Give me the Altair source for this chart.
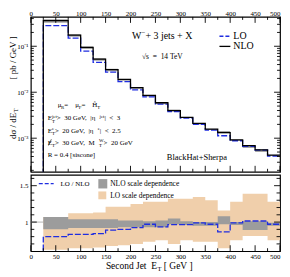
import altair as alt
import pandas as pd

FONT = "Liberation Serif"
BLUE = "#1f2de0"
GRAY = "#9c9c9c"
ORANGE = "#f0cfab"

# ---------------- data ----------------
edges = [25, 75, 100, 125, 150, 175, 200, 225, 250, 275, 300, 325, 350, 375, 400, 425, 450, 475, 500]
nlo = [0.363, 0.175, 0.095, 0.0525, 0.031, 0.019, 0.0126, 0.00857, 0.0059, 0.0040,
       0.00285, 0.0021, 0.00158, 0.00132, 0.00092, 0.00069, 0.00056, 0.00043]
lo = [0.280, 0.150, 0.078, 0.0447, 0.0275, 0.017, 0.0113, 0.0079, 0.0055, 0.0038,
      0.00275, 0.0020, 0.0015, 0.00113, 0.00088, 0.000665, 0.00055, 0.00041]
ratio = [0.80, 0.83, 0.83, 0.84, 0.89, 0.90, 0.925, 0.97, 0.935, 0.965,
         0.965, 0.99, 0.97, 0.865, 0.99, 1.015, 1.015, 0.97]
nlo_band_lo = [0.90, 0.92, 0.92, 0.92, 0.92, 0.93, 0.93, 0.93, 0.93, 0.97,
               0.96, 0.95, 0.95, 0.97, 0.96, 0.89, 0.89, 0.95]
nlo_band_hi = [1.07, 1.04, 1.04, 1.04, 1.04, 1.02, 1.02, 1.01, 1.02, 1.05,
               1.01, 1.00, 1.00, 1.08, 1.00, 1.01, 1.01, 0.99]
lo_band_lo = [0.62, 0.64, 0.64, 0.65, 0.67, 0.68, 0.70, 0.73, 0.75, 0.70,
              0.75, 0.73, 0.73, 0.64, 0.75, 0.81, 0.81, 0.75]
lo_band_hi = [1.07, 1.12, 1.12, 1.13, 1.21, 1.21, 1.25, 1.28, 1.28, 1.32,
              1.32, 1.345, 1.30, 1.16, 1.28, 1.39, 1.39, 1.28]

x_major = [0, 50, 100, 150, 200, 250, 300, 350, 400, 450, 500]
x_minor = [25, 75, 125, 175, 225, 275, 325, 375, 425, 475]
top_y_major = [0.001, 0.01, 0.1]
top_y_minor = [0.0002, 0.0003, 0.0004, 0.0005, 0.0006, 0.0007, 0.0008, 0.0009,
               0.002, 0.003, 0.004, 0.005, 0.006, 0.007, 0.008, 0.009,
               0.02, 0.03, 0.04, 0.05, 0.06, 0.07, 0.08, 0.09, 0.2, 0.3, 0.4]
bot_y_major = [1.0, 1.5]
bot_y_minor = [0.7, 0.8, 0.9, 1.1, 1.2, 1.3, 1.4, 1.6]

W = 251
HT = 156
HB = 77

xsc = alt.Scale(domain=[0, 500], nice=False, zero=False)
ysc_top = alt.Scale(type="log", domain=[1.86e-4, 0.435], nice=False)
ysc_bot = alt.Scale(domain=[0.6, 1.65], nice=False, zero=False)

axis_common = dict(ticks=False, tickSize=0, domain=False, grid=False, labelFont=FONT,
                   labelFontSize=7, labelColor="black", title=None, labelOverlap=False)
last_right = {"condition": {"test": "datum.value == 500", "value": "right"}, "value": "center"}
AX_TOP_X = alt.Axis(orient="top", values=x_major, labelFlush=False, labelPadding=0,
                    labelAlign=last_right, **axis_common)
AX_TOP_Y = alt.Axis(values=top_y_major, labelPadding=3,
                    labelExpr="datum.value < 0.005 ? '10⁻³' : (datum.value < 0.05 ? '10⁻²' : '10⁻¹')",
                    **axis_common)
AX_BOT_X = alt.Axis(orient="bottom", values=x_major, labelFlush=False, labelPadding=1,
                    labelAlign=last_right, **axis_common)
AX_BOT_Y = alt.Axis(values=bot_y_major, labelPadding=3,
                    labelExpr="datum.value == 1 ? '1' : '1.5'", **axis_common)

one = pd.DataFrame({"k": [0]})

# ---------------- helpers ----------------
TW = {' ': .25, '!': .333, '(': .333, ')': .333, '+': .564, ',': .25, '-': .333, '.': .25,
      '/': .278, '<': .564, '=': .564, '>': .564, '[': .333, ']': .333, '|': .2,
      'A': .722, 'B': .667, 'C': .667, 'D': .722, 'E': .611, 'F': .556, 'G': .722, 'H': .722,
      'I': .333, 'J': .389, 'K': .722, 'L': .611, 'M': .889, 'N': .722, 'O': .722, 'P': .556,
      'R': .667, 'S': .556, 'T': .611, 'V': .722, 'W': .944, 'X': .722,
      'a': .444, 'c': .444, 'e': .444, 'f': .333, 'i': .278, 'j': .278, 'l': .278, 'm': .778,
      'r': .333, 's': .389, 't': .278, 'w': .722, 'z': .444,
      'μ': .5, 'η': .5, 'σ': .55, '√': .55, 'Ĥ': .722, '−': .564}


def tw(s, fs):
    return sum(TW.get(c, 0.5) for c in s) * fs


def txt(s, x, y, fs, align="left", angle=0, baseline="alphabetic", color="black"):
    return alt.Chart(one).mark_text(
        text=s.replace(" ", "\u00a0"), align=align, baseline=baseline, angle=angle, fontSize=fs,
        font=FONT, color=color
    ).encode(x=alt.value(x), y=alt.value(y))


def rich(x0, y0, segs, fs):
    layers = []
    x = x0
    s = fs * 0.7
    for content, mode in segs:
        if mode == "n":
            layers.append(txt(content, x, y0, fs))
            x += tw(content, fs)
        elif mode == "sub":
            layers.append(txt(content, x, y0 + fs * 0.3, s))
            x += tw(content, s)
        elif mode == "sup":
            layers.append(txt(content, x, y0 - fs * 0.42, s))
            x += tw(content, s)
        elif mode == "ss":
            sb, sp = content
            layers.append(txt(sb, x, y0 + fs * 0.3, s))
            layers.append(txt(sp, x, y0 - fs * 0.42, s))
            x += max(tw(sb, s), tw(sp, s))
        elif mode == "slash":
            # slash through the previous letter (missing transverse energy)
            w = tw("E", fs)
            layers.append(alt.Chart(one).mark_rule(color="black", strokeWidth=0.6).encode(
                x=alt.value(x - w + 0.8), x2=alt.value(x - 0.6),
                y=alt.value(y0 + 0.8), y2=alt.value(y0 - fs * 0.78)))
    return layers


def step_frame(vals, lead):
    xs = [edges[0]] + list(edges)
    ys = [lead] + list(vals) + [vals[-1]]
    return pd.DataFrame({"x": xs, "y": ys, "i": list(range(len(xs)))})


def band_frame(lo_v, hi_v):
    return pd.DataFrame({"x": list(edges), "lo": list(lo_v) + [lo_v[-1]],
                         "hi": list(hi_v) + [hi_v[-1]]})


def xticks(vals, y1, y2, ax):
    return alt.Chart(pd.DataFrame({"v": vals})).mark_rule(color="black", strokeWidth=0.9).encode(
        x=alt.X("v:Q", axis=ax), y=alt.value(y1), y2=alt.value(y2))


def yticks(vals, x1, x2, ax):
    return alt.Chart(pd.DataFrame({"v": vals})).mark_rule(color="black", strokeWidth=0.9).encode(
        y=alt.Y("v:Q", axis=ax), x=alt.value(x1), x2=alt.value(x2))


# ---------------- top panel ----------------
band_top = alt.Chart(band_frame([n * g for n, g in zip(nlo, nlo_band_lo)],
                                [n * g for n, g in zip(nlo, nlo_band_hi)])).mark_area(
    interpolate="step-after", color="#a5a5a5", clip=True
).encode(
    x=alt.X("x:Q", scale=xsc, axis=AX_TOP_X),
    y=alt.Y("lo:Q", scale=ysc_top, axis=AX_TOP_Y),
    y2="hi:Q",
)

lo_line = alt.Chart(step_frame(lo, 1e-5)).mark_line(
    interpolate="step-after", color=BLUE, strokeWidth=1.3, strokeDash=[6, 2], clip=True
).encode(x=alt.X("x:Q", axis=AX_TOP_X), y=alt.Y("y:Q", axis=AX_TOP_Y), order="i:Q")

nlo_line = alt.Chart(step_frame(nlo, 1e-5)).mark_line(
    interpolate="step-after", color="black", strokeWidth=1.3, clip=True
).encode(x=alt.X("x:Q", axis=AX_TOP_X), y=alt.Y("y:Q", axis=AX_TOP_Y), order="i:Q")

top_ticks = [
    xticks(x_major, 0, 6, AX_TOP_X), xticks(x_minor, 0, 3, AX_TOP_X),
    xticks(x_major, HT, HT - 6, AX_TOP_X), xticks(x_minor, HT, HT - 3, AX_TOP_X),
    yticks(top_y_major, 0, 6, AX_TOP_Y), yticks(top_y_minor, 0, 3, AX_TOP_Y),
    yticks(top_y_major, W, W - 6, AX_TOP_Y), yticks(top_y_minor, W, W - 3, AX_TOP_Y),
]

top_text = []
top_text += rich(102, 22.4, [("W", "n"), ("−", "sup"), (" + 3 jets + X", "n")], 10)
top_text.append(txt("LO", 204, 22.4, 10))
top_text.append(txt("NLO", 204, 32.7, 10))
top_text.append(txt("√s  =  14 TeV", 112, 41.9, 7.5))
top_text += rich(27, 90.7, [("μ", "n"), ("R", "sub"), ("  =  ", "n"), ("μ", "n"), ("F", "sub"),
                            ("  =  ", "n"), ("Ĥ", "n"), ("T", "sub")], 7)
top_text += rich(17, 104.3, [("E", "n"), (("T", "jet"), "ss"), ("  >  30 GeV,  |η", "n"),
                             ("jet", "sup"), ("|  <  3", "n")], 7)
top_text += rich(17, 117, [("E", "n"), (("T", "e"), "ss"), ("  >  20 GeV,  |η", "n"),
                           ("e", "sup"), ("|  <  2.5", "n")], 7)
top_text += rich(17, 128.7, [("E", "n"), ("", "slash"), ("T", "sub"), ("  >  30 GeV,  M", "n"),
                             (("T", "W"), "ss"), ("  >  20 GeV", "n")], 7)
top_text.append(txt("R = 0.4 [siscone]", 17, 141.4, 7))
top_text.append(txt("BlackHat+Sherpa", 137, 144.3, 8.5))
# y title (rotated)
top_text.append(txt("dσ / dE", -17.5, 122.9, 9, align="left", angle=270, baseline="middle"))
top_text.append(txt("T", -15, 122.9 - tw("dσ / dE", 9) - 0.5, 6.5, align="left", angle=270,
                    baseline="middle"))
top_text.append(txt("[ pb / GeV ]", -17.5, 19.5, 9, align="right", angle=270, baseline="middle"))

top_legend = [
    alt.Chart(one).mark_rule(color=BLUE, strokeWidth=1.3, strokeDash=[4, 2]).encode(
        x=alt.value(190), x2=alt.value(201), y=alt.value(19.5)),
    alt.Chart(one).mark_rule(color="black", strokeWidth=1.3).encode(
        x=alt.value(190), x2=alt.value(201), y=alt.value(29.7)),
]

top = alt.layer(band_top, lo_line, nlo_line, *top_ticks, *top_legend, *top_text).properties(
    width=W, height=HT)

# ---------------- bottom panel ----------------
one_line = alt.Chart(pd.DataFrame({"v": [1.0]})).mark_rule(color="#b5b5b5", strokeWidth=1).encode(
    y=alt.Y("v:Q", scale=ysc_bot, axis=AX_BOT_Y),
    x=alt.value(0), x2=alt.value(W))

lo_band = alt.Chart(band_frame(lo_band_lo, lo_band_hi)).mark_area(
    interpolate="step-after", color=ORANGE, clip=True
).encode(
    x=alt.X("x:Q", scale=xsc, axis=AX_BOT_X),
    y=alt.Y("lo:Q", axis=AX_BOT_Y), y2="hi:Q")

nlo_band = alt.Chart(band_frame(nlo_band_lo, nlo_band_hi)).mark_area(
    interpolate="step-after", color=GRAY, clip=True
).encode(x=alt.X("x:Q", axis=AX_BOT_X), y=alt.Y("lo:Q", axis=AX_BOT_Y), y2="hi:Q")

ratio_line = alt.Chart(step_frame(ratio, 0.5)).mark_line(
    interpolate="step-after", color=BLUE, strokeWidth=1.3, strokeDash=[6, 2], clip=True
).encode(x=alt.X("x:Q", axis=AX_BOT_X), y=alt.Y("y:Q", axis=AX_BOT_Y), order="i:Q")

bot_ticks = [
    xticks(x_major, HB, HB - 6, AX_BOT_X), xticks(x_minor, HB, HB - 3, AX_BOT_X),
    yticks(bot_y_major, 0, 6, AX_BOT_Y), yticks(bot_y_minor, 0, 3.5, AX_BOT_Y),
    yticks(bot_y_major, W, W - 6, AX_BOT_Y), yticks(bot_y_minor, W, W - 3.5, AX_BOT_Y),
]

bot_legend = [
    alt.Chart(one).mark_rule(color=BLUE, strokeWidth=1.3, strokeDash=[4, 2]).encode(
        x=alt.value(8), x2=alt.value(23), y=alt.value(8.9)),
    alt.Chart(one).mark_rect(color=GRAY).encode(
        x=alt.value(68), x2=alt.value(77), y=alt.value(4.4), y2=alt.value(13.8)),
    alt.Chart(one).mark_rect(color=ORANGE).encode(
        x=alt.value(68), x2=alt.value(76), y=alt.value(16.8), y2=alt.value(24.7)),
    txt("LO / NLO", 30, 11.8, 7),
    txt("NLO scale dependence", 80, 11.8, 7.5),
    txt("LO scale dependence", 80, 23.7, 7.5),
    txt("Second Jet  E", 127, 95, 9.5, align="right"),
    txt("T", 127.5, 97.3, 6.5),
    txt("[ GeV ]", 134, 95, 9.5),
]

bottom = alt.layer(one_line, lo_band, nlo_band, ratio_line, *bot_ticks, *bot_legend).properties(
    width=W, height=HB)

chart = alt.vconcat(top, bottom, spacing=0).properties(
    padding={"left": 0, "right": 0, "top": 0, "bottom": 0}, background="white"
).configure_view(stroke="black", strokeWidth=1.2)

chart.save("out.html", embed_options={"renderer": "svg", "actions": False})
